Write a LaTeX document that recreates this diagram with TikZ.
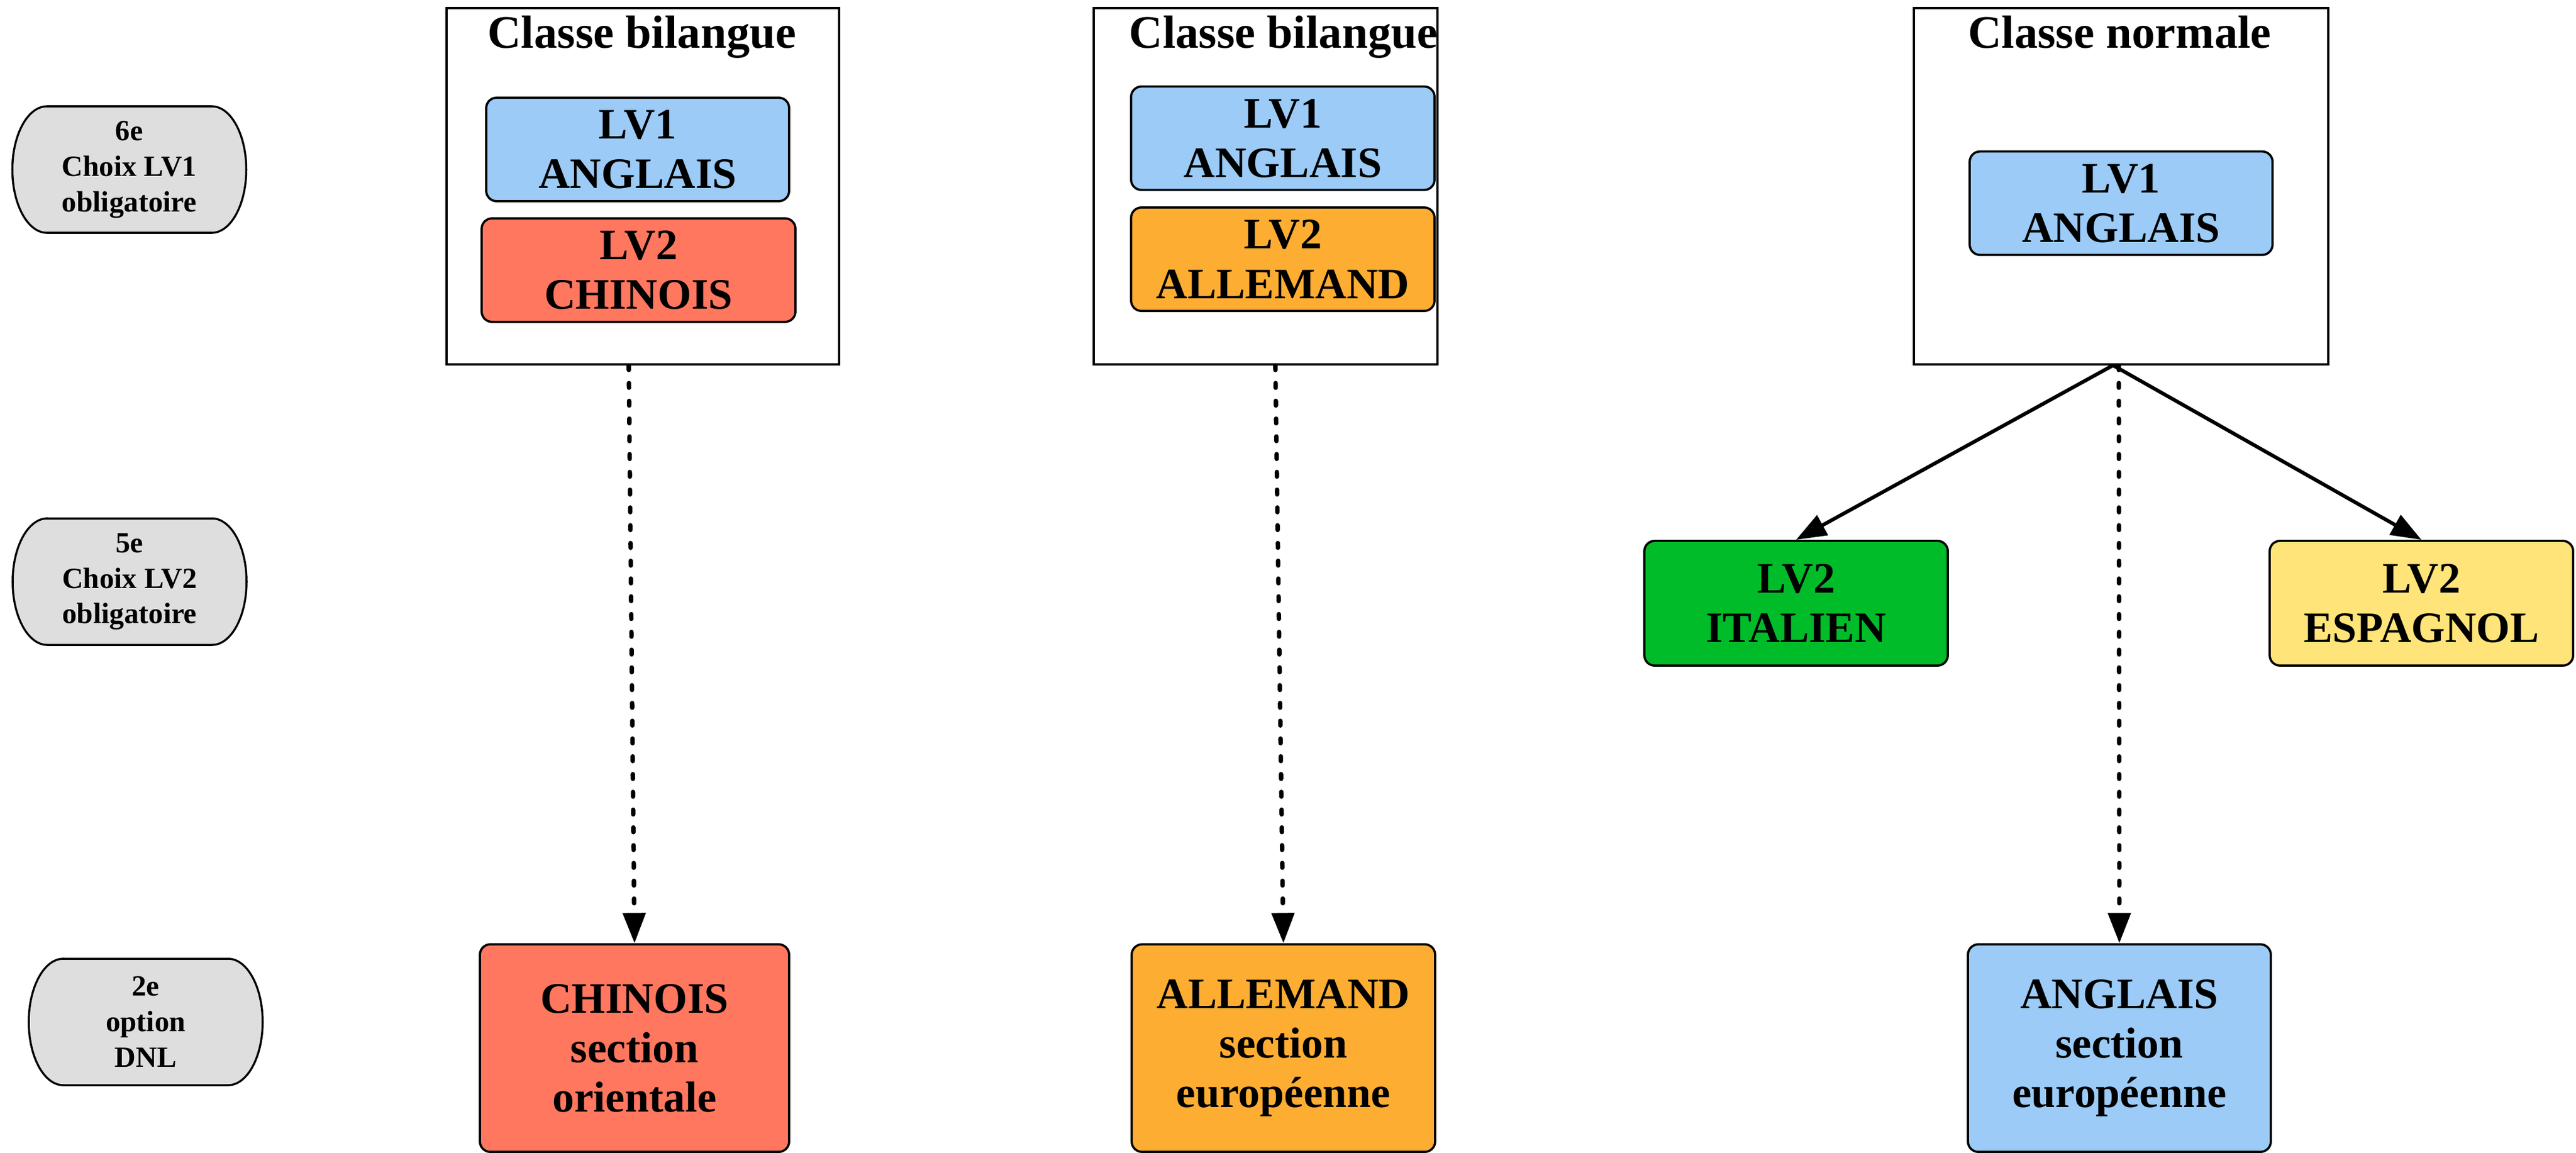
\documentclass[tikz,border=0pt]{standalone}
\usepackage{fontspec}
\setmainfont{Liberation Serif}
\usetikzlibrary{arrows.meta,backgrounds}
\definecolor{bleuLV}{HTML}{9BCBF6}
\definecolor{rougeLV}{HTML}{FF775F}
\definecolor{orangeLV}{HTML}{FEAD33}
\definecolor{vertLV}{HTML}{00BC29}
\definecolor{jauneLV}{HTML}{FFE479}
\definecolor{grisEt}{HTML}{DEDEDE}

\begin{document}
\begin{tikzpicture}[
    classe/.style={draw, line width=0.9pt, minimum height=6.2cm, inner sep=0pt},
    titre/.style={anchor=base, font=\bfseries\fontsize{23}{27}\selectfont},
    langue/.style={draw, rounded corners=0.18cm, line width=1.1pt, align=center, inner sep=0pt, font=\bfseries\fontsize{21.5}{24.5}\selectfont},
    lvbox/.style={langue, minimum width=5.28cm, minimum height=1.8cm},
    sectbox/.style={langue, minimum width=5.28cm, minimum height=3.61cm},
    etiq/.style={minimum width=4.07cm, minimum height=2.2cm, inner sep=0pt, outer sep=0pt, align=center, font=\bfseries\fontsize{14.5}{17.6}\selectfont},
    fleche/.style={line width=1.8pt, -{Triangle[length=15pt,width=11pt]}},
    pointille/.style={fleche, line width=2.2pt, line cap=round, dash pattern=on 2.3pt off 6.5pt}]
  \useasboundingbox (0,0) rectangle (44.82,-20.06);

  % niveaux
  \node[etiq] (n6) at (2.25,-2.95) {6e\\Choix LV1\\obligatoire};
  \node[etiq] (n5) at (2.255,-10.12) {5e\\Choix LV2\\obligatoire};
  \node[etiq] (n2) at (2.535,-17.78) {2e\\option\\DNL};
  \begin{scope}[on background layer]
    \foreach \n in {n6,n5,n2}
    \filldraw[fill=grisEt, line width=1pt] ([xshift=6mm]\n.north west) -- ([xshift=-6mm]\n.north east)
      arc[start angle=90, end angle=-90, x radius=0.6, y radius=1.1] -- ([xshift=6mm]\n.south west)
      arc[start angle=270, end angle=90, x radius=0.6, y radius=1.1] -- cycle;
  \end{scope}

  % classe bilangue chinois
  \node[classe, minimum width=6.83cm] (cb1) at (11.185,-3.24) {};
  \node[titre] (t1) at (11.17,-0.835) {Classe bilangue};
  \node[lvbox, fill=bleuLV, minimum width=5.27cm] (c1lv1) at (11.095,-2.6) {LV1\\ANGLAIS};
  \node[lvbox, fill=rougeLV, minimum width=5.46cm] (c1lv2) at (11.11,-4.7) {LV2\\CHINOIS};

  % classe bilangue allemand
  \node[classe, minimum width=5.98cm] (cb2) at (22.02,-3.24) {};
  \node[titre] (t2) at (22.33,-0.835) {Classe bilangue};
  \node[lvbox, fill=bleuLV] (c2lv1) at (22.32,-2.405) {LV1\\ANGLAIS};
  \node[lvbox, fill=orangeLV] (c2lv2) at (22.32,-4.51) {LV2\\ALLEMAND};

  % classe normale
  \node[classe, minimum width=7.21cm] (cb3) at (36.905,-3.24) {};
  \node[titre] (t3) at (36.88,-0.835) {Classe normale};
  \node[lvbox, fill=bleuLV, minimum width=5.27cm] (c3lv1) at (36.905,-3.535) {LV1\\ANGLAIS};

  \node[lvbox, fill=vertLV, minimum height=2.17cm] (it) at (31.25,-10.495) {LV2\\ITALIEN};
  \node[lvbox, fill=jauneLV, minimum height=2.17cm] (es) at (42.13,-10.495) {LV2\\ESPAGNOL};

  % sections
  \node[sectbox, fill=rougeLV, minimum width=5.38cm] (sec1) at (11.04,-18.235) {CHINOIS\\section\\orientale};
  \node[sectbox, fill=orangeLV] (sec2) at (22.33,-18.235) {ALLEMAND\\section\\européenne};
  \node[sectbox, fill=bleuLV, minimum width=5.27cm] (sec3) at (36.875,-18.235) {ANGLAIS\\section\\européenne};

  \draw[fleche] ([xshift=-1.4mm]cb3.south) -- (it.north);
  \draw[fleche] ([xshift=-1.4mm]cb3.south) -- (es.north);
  \draw[pointille] ([xshift=-2.45mm]cb1.south) -- (sec1.north);
  \draw[pointille] ([xshift=1.7mm]cb2.south) -- (sec2.north);
  \draw[pointille] ([xshift=-0.4mm]cb3.south) -- (sec3.north);
\end{tikzpicture}
\end{document}
